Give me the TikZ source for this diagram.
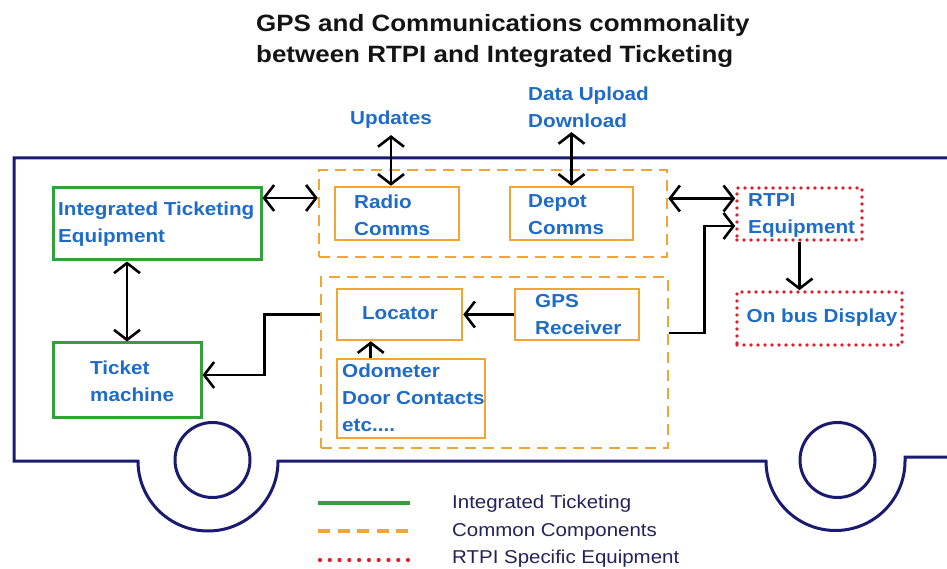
\documentclass[tikz,border=0pt]{standalone}
\usepackage{fontspec}
\usetikzlibrary{arrows.meta,calc}
\newfontfamily\diagfont{Liberation Sans}[FakeStretch=1.1]

\definecolor{busnavy}{RGB}{26,26,112}
\definecolor{itgreen}{RGB}{52,160,58}
\definecolor{ccorange}{RGB}{242,165,50}
\definecolor{rtpired}{RGB}{225,30,45}
\definecolor{txtblue}{RGB}{30,108,198}
\definecolor{legnavy}{RGB}{34,34,92}

\begin{document}
\begin{tikzpicture}[x=1pt,y=1pt,
  busline/.style={draw=busnavy, line width=3pt},
  itbox/.style={draw=itgreen, line width=3pt, inner sep=0pt},
  cbox/.style={draw=ccorange, line width=2.5pt, inner sep=0pt},
  cgroup/.style={draw=ccorange, line width=2.5pt, dash pattern=on 11pt off 7pt, inner sep=0pt},
  rbox/.style={draw=rtpired, line width=3.6pt, line cap=round, dash pattern=on 0pt off 7pt, inner sep=0pt},
  lbl/.style={font=\diagfont\bfseries\fontsize{18.8}{27}\selectfont, text=txtblue, align=left, inner sep=0pt},
  headtxt/.style={font=\diagfont\bfseries\fontsize{23.6}{31}\selectfont, text=black!92, inner sep=0pt},
  legtxt/.style={font=\diagfont\fontsize{18.6}{27}\selectfont, text=legnavy, inner sep=0pt},
  tip/.tip={Straight Barb[length=10pt,width=26pt]},
  link/.style={draw=black, line width=2.6pt, -tip},
  dlink/.style={draw=black, line width=2.6pt, tip-tip}
]
\useasboundingbox (0,0) rectangle (947,568);

% bus body with wheel arches
\draw[busline] (947,410) -- (14,410) -- (14,107) -- (138,107)
  arc[start angle=180, end angle=360, radius=70] -- (766,107)
  arc[start angle=180, end angle=360, radius=69.5] -- (905,111) -- (947,111);
\draw[busline] (212.5,108) circle[radius=37.5];
\draw[busline] (837.5,108) circle[radius=37.5];

% heading
\node[headtxt, anchor=base west] (head1) at (256,536) {GPS and Communications commonality};
\node[headtxt, anchor=base west] (head2) at (256,505) {between RTPI and Integrated Ticketing};

% integrated ticketing equipment
\node[itbox, minimum width=208pt, minimum height=72pt] (ite) at (157,344) {};
\node[lbl, anchor=west] (itetxt) at (58,343.5) {Integrated Ticketing\\Equipment};
\node[itbox, minimum width=148pt, minimum height=74pt] (tm) at (127,188) {};
\node[lbl, anchor=west] (tmtxt) at (90,187) {Ticket\\machine};

% common communications components
\node[cgroup, minimum width=348pt, minimum height=87pt] (topgrp) at (493,354.5) {};
\node[cbox, minimum width=124pt, minimum height=53pt] (radio) at (397,354.5) {};
\node[lbl, anchor=west] (radiotxt) at (354,353) {Radio\\Comms};
\node[cbox, minimum width=123pt, minimum height=53pt] (depot) at (571.5,354.5) {};
\node[lbl, anchor=west] (depottxt) at (528,353) {Depot\\Comms};

% common location components
\node[cgroup, minimum width=347pt, minimum height=171pt] (botgrp) at (494.5,205.5) {};
\node[cbox, minimum width=125pt, minimum height=51pt] (locator) at (399.5,253.5) {};
\node[lbl] (loctxt) at (400,254.5) {Locator};
\node[cbox, minimum width=124pt, minimum height=51pt] (gps) at (577,253.5) {};
\node[lbl, anchor=west] (gpstxt) at (535,253) {GPS\\Receiver};
\node[cbox, minimum width=148pt, minimum height=79pt] (odo) at (411,169.5) {};
\node[lbl, anchor=west] (odotxt) at (342,170) {Odometer\\Door Contacts\\etc....};

% RTPI specific equipment
\node[rbox, minimum width=125pt, minimum height=52pt] (rtpi) at (799.5,354) {};
\node[lbl, anchor=west] (rtpitxt) at (748,353) {RTPI\\Equipment};
\node[rbox, minimum width=165pt, minimum height=53pt] (disp) at (819.5,249.5) {};
\node[lbl] (disptxt) at (822,250) {On bus Display};

% external links
\node[lbl, inner ysep=6pt, anchor=base] (upd) at (391,443) {Updates};
\node[lbl, inner ysep=4pt, anchor=west] (dul) at (528,460.5) {Data Upload\\Download};

% connectors
\draw[dlink] (upd.south) -- (upd.south |- radio.north);
\draw[dlink] (depot.north |- dul.south) -- (depot.north);
\draw[dlink] ([yshift=26pt]ite.east) -- ([yshift=26pt]ite.east -| topgrp.west);
\draw[dlink] (tm.north) -- (tm.north |- ite.south);
\draw[link] (locator.center -| botgrp.west) -- ++(-55,0) |- ([yshift=5pt]tm.east);
\draw[link] (gps) -- (locator);
\draw[link] ($(odo.north west)+(35,0)$) coordinate (odoup) -- (odoup |- locator.south);
\draw[dlink] ([yshift=15pt]topgrp.east) -- ([yshift=15pt]topgrp.east -| rtpi.west);
\draw[link] ([yshift=29.5pt]botgrp.east) -- ++(35,0) |- ([yshift=-12pt]rtpi.west);
\draw[link] (rtpi.south) -- (rtpi.south |- disp.north);

% key
\draw[itgreen, line width=4pt] (318,65) -- (410,65);
\draw[ccorange, line width=4pt, dash pattern=on 12pt off 7.5pt] (318,37) -- (410,37);
\draw[rtpired, line width=4.2pt, line cap=round, dash pattern=on 0pt off 9.78pt] (320,8) -- (408.2,8);
\node[legtxt, anchor=base west] (key1) at (452,60) {Integrated Ticketing};
\node[legtxt, anchor=base west] (key2) at (452,32) {Common Components};
\node[legtxt, anchor=base west] (key3) at (452,5) {RTPI Specific Equipment};
\end{tikzpicture}
\end{document}
